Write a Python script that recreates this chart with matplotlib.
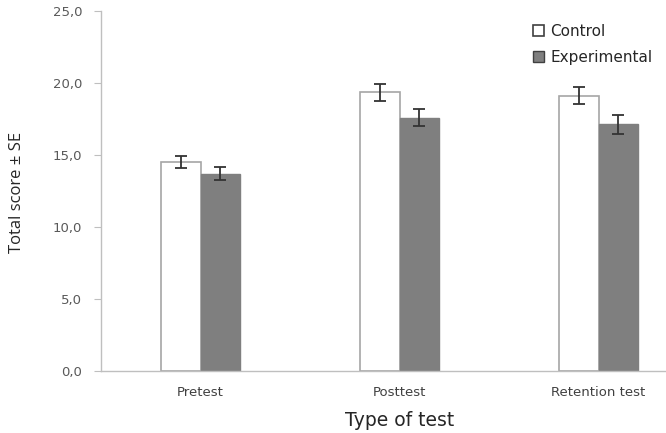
import matplotlib
matplotlib.use("Agg")
import matplotlib.pyplot as plt
import numpy as np

categories = ["Pretest", "Posttest", "Retention test"]
control = [14.5, 19.35, 19.1]
control_se = [0.42, 0.57, 0.59]
experimental = [13.7, 17.6, 17.15]
experimental_se = [0.45, 0.6, 0.66]
y_ticks = [0, 5, 10, 15, 20, 25]
y_tick_labels = ["0,0", "5,0", "10,0", "15,0", "20,0", "25,0"]

W, H = 666, 433
fig = plt.figure(figsize=(W / 100, H / 100), dpi=100)
left, right, top, bottom = 101, 698, 11, 371
ax = fig.add_axes([left / W, 1 - bottom / H, (right - left) / W, (bottom - top) / H])

x = np.arange(len(categories))
bw = 0.2
ax.bar(x - bw / 2, control, bw, color="white", edgecolor="#a6a6a6", linewidth=1.2,
       label="Control", zorder=2)
ax.bar(x + bw / 2, experimental, bw, color="#7f7f7f", edgecolor="#7f7f7f", linewidth=1.0,
       label="Experimental", zorder=2)
ax.errorbar(x - bw / 2, control, yerr=control_se, fmt="none", ecolor="#333333",
            elinewidth=1.3, capsize=4, capthick=1.3, zorder=3)
ax.errorbar(x + bw / 2, experimental, yerr=experimental_se, fmt="none", ecolor="#333333",
            elinewidth=1.3, capsize=4, capthick=1.3, zorder=3)

ax.set_xlim(-0.5, 2.5)
ax.set_ylim(0, 25)
ax.set_yticks(y_ticks)
ax.set_yticklabels(y_tick_labels)
ax.set_xticks(x)
ax.set_xticklabels(categories)

for s in ["top", "right"]:
    ax.spines[s].set_visible(False)
for s in ["left", "bottom"]:
    ax.spines[s].set_color("#bfbfbf")
    ax.spines[s].set_linewidth(1.0)

ax.tick_params(axis="y", length=5, color="#bfbfbf", labelcolor="#595959",
               labelsize=9.5, pad=8.5)
ax.tick_params(axis="x", length=0, labelcolor="#404040", labelsize=9.5, pad=11)
for lbl in ax.get_yticklabels() + ax.get_xticklabels():
    lbl.set_family("DejaVu Sans")

fig.text(400 / W, 1 - 420 / H, "Type of test", fontsize=13.5, family="DejaVu Sans",
         color="#262626", ha="center", va="center")
fig.text(17 / W, 1 - 192 / H, "Total score ± SE", fontsize=12, rotation=90,
         family=["Liberation Sans Narrow", "Open Sans", "DejaVu Sans"],
         color="#262626", ha="center", va="center")

leg = fig.legend(loc="upper left", bbox_to_anchor=(519 / W, 1 - 10 / H), frameon=False,
                 handlelength=0.75, handleheight=0.75, handletextpad=0.4,
                 labelspacing=0.75, prop={"family": "DejaVu Sans", "size": 11})
for t in leg.get_texts():
    t.set_color("#262626")
for h in leg.legend_handles:
    h.set_edgecolor("#404040")

fig.savefig("out.png", dpi=100)
